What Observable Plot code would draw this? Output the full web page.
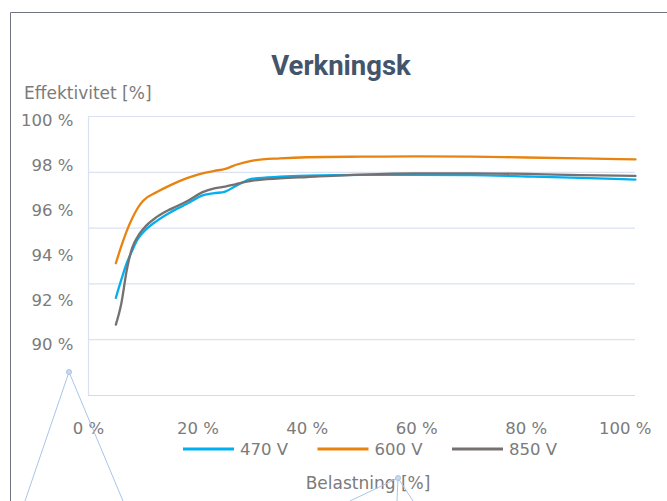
<!DOCTYPE html>
<html>
<head>
<meta charset="utf-8">
<script src="https://cdn.jsdelivr.net/npm/d3@7"></script>
<script src="https://cdn.jsdelivr.net/npm/@observablehq/plot@0.6"></script>
<style>
  body { margin: 0; background: #fff; }
  #wrap { position: relative; width: 667px; height: 501px; overflow: hidden; background: #fff; font-family: "DejaVu Sans", sans-serif; }
  #wrap > svg, #wrap > div { position: absolute; left: 0; top: 0; }
</style>
</head>
<body>
<div id="wrap"></div>
<script>
// ---- data ----
const loadPct = [5, 6, 7, 8, 9, 10, 12.5, 15, 18, 21, 23, 25, 27, 30, 35, 40, 50, 60, 70, 80, 90, 100];
const eff470 = [93.5, 94.15, 94.75, 95.2, 95.6, 95.85, 96.26, 96.57, 96.87, 97.18, 97.25, 97.31, 97.52, 97.77, 97.84, 97.88, 97.91, 97.91, 97.9, 97.85, 97.8, 97.74];
const eff600 = [94.74, 95.35, 95.9, 96.35, 96.72, 96.98, 97.29, 97.54, 97.79, 97.97, 98.05, 98.12, 98.27, 98.42, 98.5, 98.54, 98.56, 98.57, 98.56, 98.53, 98.5, 98.46];
const eff850 = [92.54, 93.3, 94.5, 95.3, 95.7, 95.97, 96.4, 96.68, 96.96, 97.3, 97.42, 97.49, 97.58, 97.7, 97.78, 97.83, 97.92, 97.96, 97.96, 97.94, 97.9, 97.87];
const seriesNames = ["470 V", "600 V", "850 V"];
const seriesColors = ["#00b0f0", "#e8830f", "#767171"];
const xTicks = [0, 20, 40, 60, 80, 100];
const yTicks = [90, 92, 94, 96, 98, 100];
const titleText = "Verkningsk";
const yTitle = "Effektivitet [%]";
const xTitle = "Belastning [%]";

const seriesValues = [eff470, eff600, eff850];
const rows = seriesNames.flatMap((s, i) => loadPct.map((x, j) => ({series: s, x, y: seriesValues[i][j]})));

const labelColor = "#7b7b7b";
const font = "'DejaVu Sans', sans-serif";
const wrap = document.getElementById("wrap");
const pct = d => `${d} %`;

// ---- main plot ----
const main = Plot.plot({
  width: 667, height: 501,
  marginLeft: 88, marginRight: 32, marginTop: 116, marginBottom: 106,
  style: {fontFamily: font, fontSize: "16.5px", color: labelColor, background: "transparent"},
  x: {domain: [0, 100], axis: null},
  y: {domain: [90, 100], axis: null},
  color: {domain: seriesNames, range: seriesColors},
  marks: [
    Plot.gridY(yTicks.filter(d => d !== 90), {stroke: "#d9e1f2", strokeOpacity: 1, strokeWidth: 1.2}),
    Plot.ruleX([0], {stroke: "#d9e1f2", strokeWidth: 1.2}),
    Plot.ruleY([90], {stroke: "#d9d9d9", strokeWidth: 1.2}),
    Plot.lineY(rows, {x: "x", y: "y", z: "series", stroke: "series", strokeWidth: 2.3, curve: "monotone-x"}),
    Plot.axisX(xTicks.filter(d => d !== 100), {tickSize: 0, tickPadding: 26.8, tickFormat: pct, fill: labelColor, label: null}),
    Plot.axisX([100], {tickSize: 0, tickPadding: 26.8, tickFormat: pct, textAnchor: "end", dx: 16, fill: labelColor, label: null})
  ]
});
wrap.appendChild(main);

// ---- y tick labels (offset scale as in the reference) ----
const yLab = Plot.plot({
  width: 90, height: 501,
  marginLeft: 75, marginRight: 0, marginTop: 120.7, marginBottom: 156.3,
  style: {fontFamily: font, fontSize: "16.5px", color: labelColor, background: "transparent"},
  y: {domain: [90, 100]},
  x: {axis: null},
  marks: [Plot.axisY(yTicks, {tickSize: 0, tickPadding: 2, tickFormat: pct, fill: labelColor, label: null})]
});
wrap.appendChild(yLab);

// ---- overlay: border, titles, legend, decorative leaders ----
const svg = d3.create("svg").attr("width", 667).attr("height", 501)
  .style("font-family", font);
svg.append("path").attr("d", "M10.5,520V12.5H700").attr("fill", "none").attr("stroke", "#6e7580").attr("stroke-width", 1);
svg.append("text").attr("x", 341).attr("y", 75).attr("text-anchor", "middle")
  .style("font-family", "Roboto, sans-serif")
  .attr("font-size", 27.5).attr("font-weight", 700).attr("fill", "#44546a").text(titleText);
svg.append("text").attr("x", 24).attr("y", 98.5).attr("font-size", 17).attr("fill", labelColor).text(yTitle);
svg.append("text").attr("x", 368).attr("y", 489).attr("text-anchor", "middle").attr("font-size", 17).attr("fill", labelColor).text(xTitle);

const leg = svg.append("g").attr("font-size", 16.5).attr("fill", labelColor);
seriesNames.forEach((s, i) => {
  const x0 = 183 + i * 134.5;
  leg.append("line").attr("x1", x0).attr("x2", x0 + 51).attr("y1", 449).attr("y2", 449)
    .attr("stroke", seriesColors[i]).attr("stroke-width", 3);
  leg.append("text").attr("x", x0 + 57).attr("y", 455).text(s);
});

const deco = svg.append("g").attr("stroke", "#a9c4e8").attr("stroke-width", 1).attr("fill", "none");
deco.append("path").attr("d", "M25,501L69,372L123,501");
deco.append("circle").attr("cx", 69).attr("cy", 372).attr("r", 2.5).attr("fill", "#c9d9f0");
deco.append("path").attr("d", "M350,501L398,478L413,501M398,478L397,501");
deco.append("circle").attr("cx", 398).attr("cy", 478).attr("r", 2.5).attr("fill", "#c9d9f0");
wrap.appendChild(svg.node());
</script>
</body>
</html>
